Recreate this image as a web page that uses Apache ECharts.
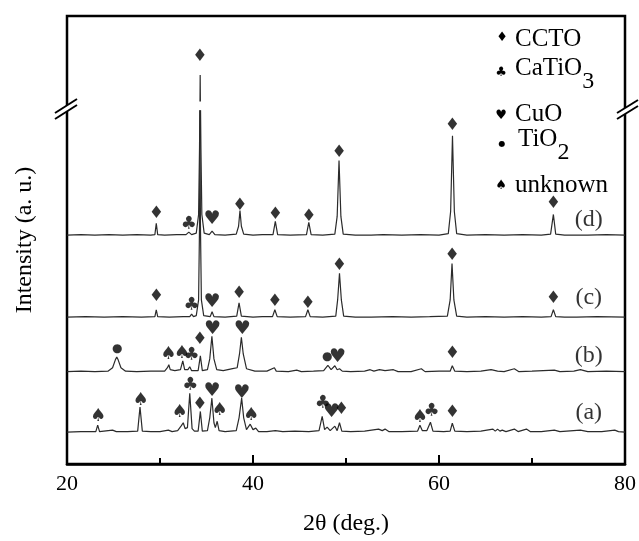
<!DOCTYPE html>
<html><head><meta charset="utf-8">
<script src="https://cdn.jsdelivr.net/npm/echarts@6/dist/echarts.min.js"></script>
<style>html,body{margin:0;padding:0;background:#fff}#c{width:639px;height:541px}</style>
</head><body><div id="c"></div>
<script>
// x: 2θ (deg.), y: intensity (a.u., offset traces)
const xTicks = [20, 40, 60, 80];
const traceD = [
[20,241],[21.5,241.5],[23,241],[24.5,241.5],[26,241],[27.5,241.5],[29,241],
[29.45,241.5],[29.6,253],[29.75,241.5],[30.5,241],[31.8,241.5],
[32.8,241.5],[33.1,244],[33.4,241.5],
[33.9,243],[34.15,262],[34.25,330],[34.28,368],[34.29,'-'],[34.3,377],[34.32,404],[34.34,377],[34.35,'-'],[34.36,368],[34.4,330],[34.5,262],[34.75,243],
[35.3,241.5],[35.6,245],[35.9,241.5],
[37,241],[38.2,242],[38.45,250],[38.6,266],[38.75,250],[39.0,242],
[40,241],[41,241.5],[42.15,241.5],[42.4,255],[42.65,241.5],
[44,241],[45.75,241.5],[46.0,254],[46.25,241.5],
[47.5,241],[48.8,242],[49.05,260],[49.25,317],[49.45,260],[49.7,242],
[51,241],[52.3,241],[52.5,243],[52.7,241],
[54,241.5],[56,241],[58,241.5],[60,241],
[61.0,242.5],[61.25,265],[61.45,342],[61.65,265],[61.9,242.5],
[63,241],[65,241.5],[67,241],[69,241.5],[71,241],
[72.0,242],[72.3,262],[72.55,242],
[73.5,241],[74.4,241],[74.6,243],[74.8,241],[76,241],[78,241.5],[80,241]
];
const traceC = [
[20,157.5],[22,158],[24,157.5],[26,158],[28,157.5],[29.45,158],[29.6,165],[29.75,158],
[31,157.5],[32.5,158],[33.2,158],[33.4,160.5],[33.6,158],
[33.9,159],[34.15,175],[34.25,250],[34.3,368],[34.35,250],[34.45,175],[34.7,159],
[35.4,158],[35.6,163],[35.8,158],
[37,157.5],[38.25,158.5],[38.5,172],[38.75,158.5],
[40,157.5],[41,158],[42.1,158],[42.35,165],[42.6,158],
[44,157.5],[45.65,158],[45.9,165],[46.15,158],
[47.5,157.5],[48.9,158.5],[49.1,175],[49.3,202],[49.5,175],[49.75,158.5],
[51,157.5],[52.3,157.5],[52.5,159.5],[52.7,157.5],
[55,158],[57,157.5],[59,158],
[60.9,158.5],[61.2,175],[61.4,212],[61.6,175],[61.9,158.5],
[63,157.5],[65,158],[67,157.5],[69,158],[71,157.5],
[72.05,158],[72.3,165],[72.55,158],
[73.5,157.5],[74.4,157.5],[74.6,159.5],[74.8,157.5],[77,158],[80,157.5]
];
const traceB = [
[20,102],[21.5,102.5],[23,102],[24.4,102.5],[24.9,106],[25.2,114],[25.35,117],[25.5,114],[25.8,106],[26.3,102.5],
[27.5,102],[29,102.5],[30.5,102.5],[30.8,106],[30.95,109],[31.1,104],[31.6,103],
[32.2,104],[32.45,113],[32.65,104],[33.0,104],[33.2,107],[33.4,103],
[34.1,103],[34.34,118],[34.55,103],
[35.1,104],[35.35,115],[35.58,138],[35.8,115],[36.1,104],
[36.8,103],[37.8,105],[38.3,106],[38.55,120],[38.75,137],[38.95,120],[39.3,105],
[40.2,102.5],[41.5,102.5],[42.3,106],[42.5,102.5],
[43.8,102],[44.7,103.5],[45.2,102],[46.5,102.5],
[47.6,103],[48.05,108.5],[48.4,104],[48.8,108],[49.05,104],[49.3,105],[49.6,102.5],
[50.5,102],[52,102.5],[52.6,104],[53,102.5],[53.6,104],[54.2,103],[55.1,104],[55.6,102],
[57,102],[58.1,105],[58.5,102],[60,102.5],
[61.2,102.5],[61.43,108],[61.7,102.5],
[63,102],[64.5,102.5],[65.6,104],[66.3,102.5],[67,102],[68.1,105],[68.6,102],
[70,102.5],[72.4,103.5],[73,102],[74.5,102.5],[75.2,104],[76,102],[78,102.5],[80,102]
];
const traceA = [
[20,40.5],[21.5,41],[23.1,41],[23.3,47.5],[23.5,41],[24.9,42.5],[25.3,41],[26.5,41],
[27.6,41.5],[27.85,66],[28.1,41.5],[29,41],[30,41],[30.9,42.5],[31.3,41],
[31.9,42],[32.3,47],[32.5,50],[32.7,44],[32.95,45],[33.2,80],[33.45,44],[33.7,41.5],
[34.1,41.5],[34.34,61.5],[34.55,41.5],
[35.1,42],[35.35,55],[35.58,75],[35.8,50],[35.95,45],[36.15,51.5],[36.35,42],
[37,41],[38.2,42],[38.5,55],[38.78,75],[39.0,55],[39.3,43],[39.7,48.5],[40.0,43],[40.3,44.5],[40.6,41],
[41.5,41],[42.4,42],[43.2,41],[44.5,41.5],[46,41],
[47.1,42],[47.44,56.5],[47.7,43],[47.97,45.5],[48.3,42],[48.8,46.5],[49.05,42],[49.3,50],[49.55,41.5],
[50.5,41],[52,41.5],[53.5,43.5],[53.9,42],[54.2,43.5],[54.6,41],
[56,41],[57.7,41.5],[57.95,47.5],[58.2,42],[58.7,42],[59.08,50.5],[59.35,41.5],
[60.5,41],[61.2,41.5],[61.43,49.5],[61.7,41.5],
[63,41],[64.5,41.5],[65.8,43.5],[66.05,41.5],[66.3,43.5],[66.55,41.5],[66.8,42.5],[67.2,41],
[68.1,43.5],[68.5,41],[69.4,43.5],[69.8,41],[71,41],[72.4,42.5],[73,41],[75.2,42.5],[76,41],[77.5,41],[78.9,42.5],[79.3,41],[80,40.5]
];
// phase markers [x, y]
const markCCTO = [[34.3,423],[29.6,263],[38.6,271],[42.4,262],[46.0,260],[49.25,325],[61.45,352],[72.3,273],
  [29.6,178],[38.5,181],[42.35,173],[45.9,171],[49.3,210],[61.4,220],[72.3,176],
  [34.3,135],[61.45,120],[34.3,68],[49.5,63],[61.45,60]];
const markCaTiO3 = [[33.1,252],[33.4,169],[33.4,119],[33.27,88],[47.5,70],[59.2,62]];
const markCuO = [[35.6,257],[35.6,173],[35.65,145],[38.85,145],[49.1,117],[35.6,82],[38.8,80],[48.45,61]];
const markTiO2 = [[25.4,125],[47.97,117]];
const markUnknown = [[30.9,120],[32.34,121],[23.33,57],[27.9,73],[32.1,61],[36.4,63],[39.78,58],[57.95,56]];
const sampleNames = ['(a)','(b)','(c)','(d)'];
const samplePos = [[76.1,60],[76.1,118],[76.1,177],[76.1,257]];

const serif = '"Liberation Serif","Times New Roman",serif';
const glyphFont = '"DejaVu Sans"';
const lineColor = '#2b2b2b';

function trace(data){
  return {type:'line', data:data, symbol:'none', connectNulls:false, silent:true,
    lineStyle:{color:lineColor, width:1.2}, z:2};
}
function marks(data, glyph, size){
  return {type:'scatter', data:data, symbol:'circle', symbolSize:1, silent:true,
    itemStyle:{color:'rgba(0,0,0,0)'}, z:3,
    label:{show:true, position:'inside', formatter:glyph, color:'#000',
      fontFamily:glyphFont, fontSize:size}};
}
const subRich = {n:{fontFamily:serif, fontSize:25, lineHeight:28, verticalAlign:'top', color:'#000'},
                 s:{fontFamily:serif, fontSize:24, lineHeight:38, verticalAlign:'bottom', color:'#000'}};

const chart = echarts.init(document.getElementById('c'), null, {renderer:'canvas'});
chart.setOption({
  animation:false,
  backgroundColor:'#fff',
  grid:{left:67, right:11, top:16, bottom:69, show:true, borderColor:'#000', borderWidth:2.5, backgroundColor:'#fff'},
  xAxis:{type:'value', min:xTicks[0], max:xTicks[xTicks.length-1], interval:20,
    name:'2θ (deg.)', nameLocation:'middle', nameGap:48,
    nameTextStyle:{fontFamily:serif, fontSize:24, color:'#000'},
    axisLine:{show:true, lineStyle:{color:'#000', width:2.5}},
    axisTick:{show:true, inside:true, length:9, lineStyle:{color:'#000', width:2}},
    minorTick:{show:true, splitNumber:2, length:6, lineStyle:{color:'#000', width:2}},
    axisLabel:{fontFamily:serif, fontSize:22, color:'#000', margin:9},
    splitLine:{show:false}, minorSplitLine:{show:false}},
  yAxis:{type:'value', min:8, max:464,
    name:'Intensity (a. u.)', nameLocation:'middle', nameGap:30, nameRotate:90,
    nameTextStyle:{fontFamily:serif, fontSize:24, color:'#000'},
    axisLine:{show:false}, axisTick:{show:false}, axisLabel:{show:false}, splitLine:{show:false}},
  series:[
    trace(traceA), trace(traceB), trace(traceC), trace(traceD),
    marks(markCCTO,'♦',17), marks(markCaTiO3,'♣',18), marks(markCuO,'♥',19),
    marks(markTiO2,'●',12), marks(markUnknown,'♠',18),
    {type:'scatter', data:samplePos.map((p,i)=>[p[0],p[1],sampleNames[i]]), symbolSize:1, silent:true,
      itemStyle:{color:'rgba(0,0,0,0)'},
      label:{show:true, position:'inside', formatter:p=>p.value[2], fontFamily:serif, fontSize:24, color:'#000'}}
  ],
  graphic:[
    // axis-break marks
    {type:'polygon', z:100, shape:{points:[[55,113],[77,99],[77,105],[55,119]]}, style:{fill:'#fff'}},
    {type:'line', z:101, shape:{x1:55,y1:113,x2:77,y2:99}, style:{stroke:'#000', lineWidth:2}},
    {type:'line', z:101, shape:{x1:55,y1:119,x2:77,y2:105}, style:{stroke:'#000', lineWidth:2}},
    {type:'polygon', z:100, shape:{points:[[617,113],[638,100],[638,106],[617,119]]}, style:{fill:'#fff'}},
    {type:'line', z:101, shape:{x1:617,y1:113,x2:638,y2:100}, style:{stroke:'#000', lineWidth:2}},
    {type:'line', z:101, shape:{x1:617,y1:119,x2:638,y2:106}, style:{stroke:'#000', lineWidth:2}},
    // legend
    {type:'text', z:100, x:502, y:38, style:{text:'♦', font:'13px "DejaVu Sans"', fill:'#000', align:'center', verticalAlign:'middle'}},
    {type:'text', z:100, x:515, y:39, style:{text:'CCTO', font:'25px '+serif, fill:'#000', align:'left', verticalAlign:'middle'}},
    {type:'text', z:100, x:501, y:73, style:{text:'♣', font:'13px "DejaVu Sans"', fill:'#000', align:'center', verticalAlign:'middle'}},
    {type:'text', z:100, x:515, y:75, style:{text:'{n|CaTiO}{s|3}', align:'left', verticalAlign:'middle', rich:subRich}},
    {type:'text', z:100, x:501, y:116, style:{text:'♥', font:'13px "DejaVu Sans"', fill:'#000', align:'center', verticalAlign:'middle'}},
    {type:'text', z:100, x:515, y:114, style:{text:'CuO', font:'25px '+serif, fill:'#000', align:'left', verticalAlign:'middle'}},
    {type:'text', z:100, x:502, y:144, style:{text:'●', font:'8px "DejaVu Sans"', fill:'#000', align:'center', verticalAlign:'middle'}},
    {type:'text', z:100, x:518, y:146, style:{text:'{n|TiO}{s|2}', align:'left', verticalAlign:'middle', rich:subRich}},
    {type:'text', z:100, x:501, y:186, style:{text:'♠', font:'13px "DejaVu Sans"', fill:'#000', align:'center', verticalAlign:'middle'}},
    {type:'text', z:100, x:515, y:185, style:{text:'unknown', font:'25px '+serif, fill:'#000', align:'left', verticalAlign:'middle'}}
  ]
});
</script></body></html>
